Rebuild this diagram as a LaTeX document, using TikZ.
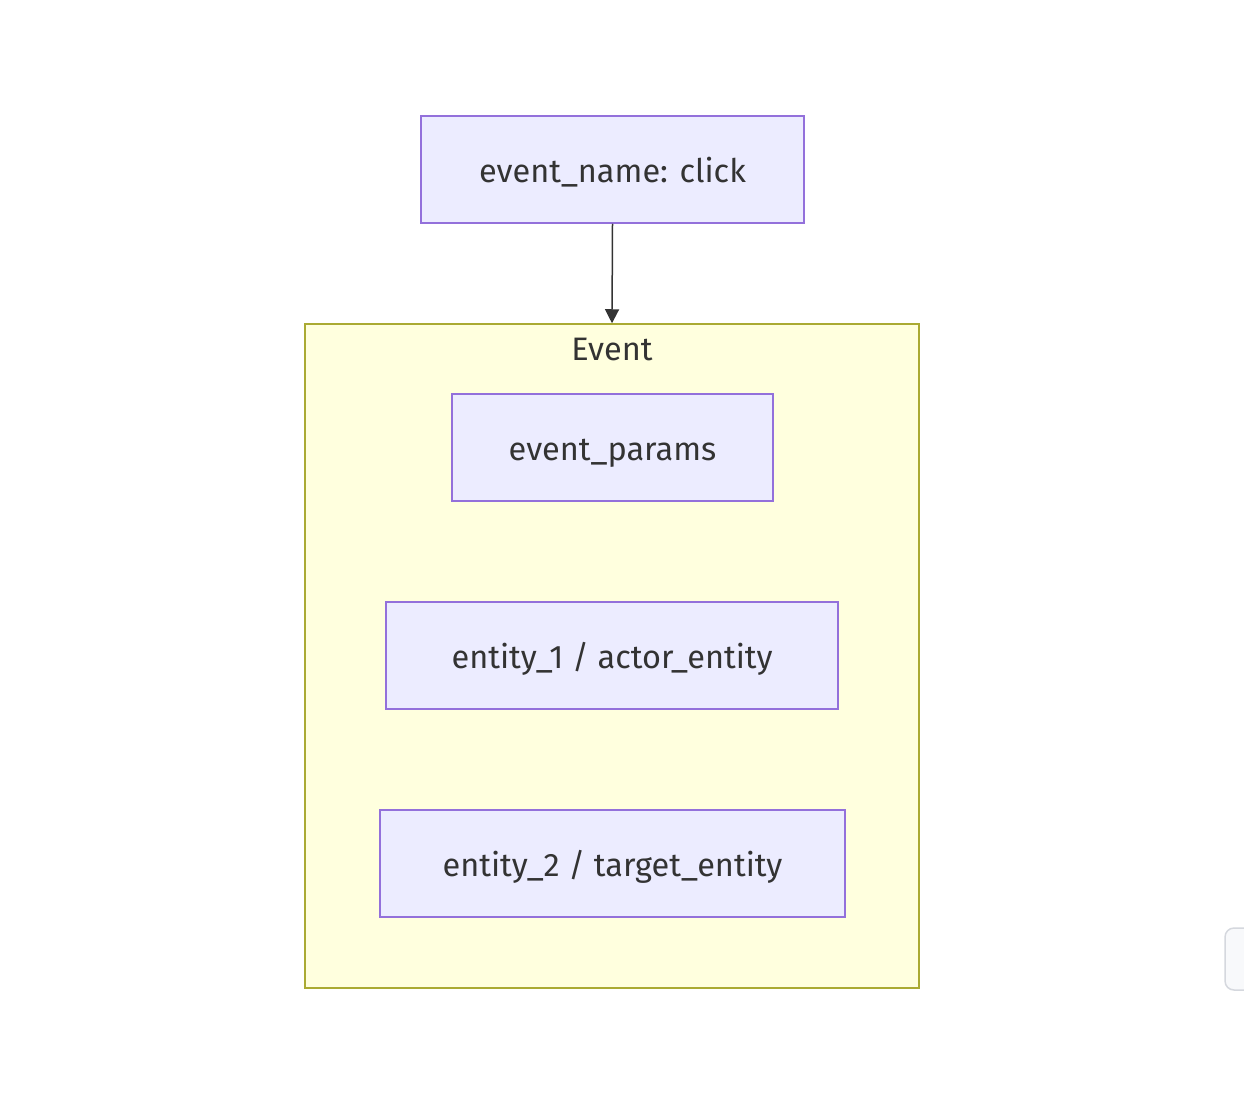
\documentclass[tikz,border=0pt]{standalone}
\usepackage{fontspec}
\setmainfont{Fira Sans}
\usetikzlibrary{arrows.meta}
\definecolor{nodefill}{HTML}{ECECFF}
\definecolor{nodeline}{HTML}{9370DB}
\definecolor{grpfill}{HTML}{FFFFDE}
\definecolor{grpline}{HTML}{AAAA33}
\definecolor{txt}{HTML}{333333}
\definecolor{uifill}{HTML}{F8F9FB}
\definecolor{uiline}{HTML}{D5D8DE}
\tikzset{
  lbl/.style={text=txt, font=\fontsize{32.5}{36}\selectfont},
  box/.style={lbl, draw=nodeline, fill=nodefill, line width=1.5pt,
    inner sep=0pt, minimum height=107pt, text height=28pt, text depth=2pt},
  grp/.style={draw=grpline, fill=grpfill, line width=1.5pt},
  link/.style={draw=txt, line width=1.5pt, -{Triangle[length=14pt,width=14pt]}}
}
\begin{document}
\begin{tikzpicture}[x=1pt,y=-1pt]
\useasboundingbox (0,0) rectangle (1244,1094);
\fill[white] (0,0) rectangle (1244,1094);
\node[grp, minimum width=614pt, minimum height=664pt, inner sep=0pt] (event) at (612,656) {};
\node[lbl] (eventlbl) at (612,349) {Event};
\node[box, minimum width=383pt] (name) at (612.5,169.5) {event\_name: click};
\node[box, minimum width=321pt] (params) at (612.5,447.5) {event\_params};
\node[box, minimum width=452pt] (e1) at (612,655.5) {entity\_1 / actor\_entity};
\node[box, minimum width=465pt] (e2) at (612.5,863.5) {entity\_2 / target\_entity};
\draw[link] (name.south) -- (event.north);
\draw[draw=uiline, fill=uifill, line width=1.5pt, rounded corners=9pt] (1225,928) rectangle (1260,990);
\end{tikzpicture}
\end{document}
